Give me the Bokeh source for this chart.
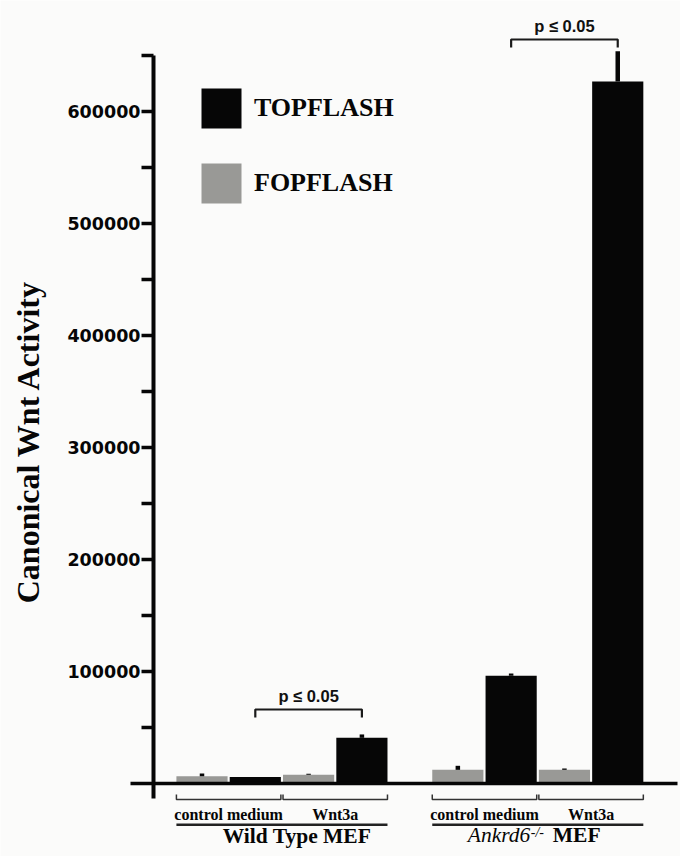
from math import pi
from bokeh.plotting import figure
from bokeh.models import Range1d, FixedTicker, Legend, LegendItem
from bokeh.core.properties import value
from bokeh.embed import file_html
from bokeh.resources import INLINE

# ---------------- data ----------------
cell_lines = ["Wild Type MEF", "Ankrd6-/- MEF"]
treatments = ["control medium", "Wnt3a"]
# order: WT control, WT Wnt3a, Ankrd6 control, Ankrd6 Wnt3a
topflash = [5800, 40800, 96200, 626800]
topflash_err = [0, 3000, 2000, 27000]
fopflash = [6500, 7800, 12200, 12200]
fopflash_err = [2500, 900, 3600, 1200]
y_ticks = [100000, 200000, 300000, 400000, 500000, 600000]
y_minor_ticks = [50000, 150000, 250000, 350000, 450000, 550000, 650000]
y_tick_labels = ["100000", "200000", "300000", "400000", "500000", "600000"]
p_label = "p \u2264 0.05"
y_title = "Canonical Wnt Activity"

# ---------------- layout helpers (page pixels) ----------------
W, H = 680, 856
PX0, PY0 = 0, 0
UNIT_PX = 53.3      # px per bar slot
X0_PX = 201.5       # page x of slot 0
BASE_PX = 783       # page y of value 0
PX_PER_Y = 112 / 100000.0
GROUP_GAP = 4.8
BAR_W = 0.96


def X(px):
    return (px - X0_PX) / UNIT_PX


def Y(py):
    return (BASE_PX - py) / PX_PER_Y


def slot(g, t, s):
    return g * GROUP_GAP + t * 2 + s


p = figure(width=W, height=H, min_border=0,
           x_range=Range1d(X(PX0), X(PX0 + W)),
           y_range=Range1d(Y(PY0 + H), Y(PY0)),
           x_axis_location=None, toolbar_location=None,
           output_backend="svg")
p.grid.visible = False
p.outline_line_color = None
p.background_fill_color = "#fbfbfa"
p.border_fill_color = "#fbfbfa"

BLACK = "#060606"
GRAY = "#999996"

top_x, fop_x = [], []
for g in range(2):
    for t in range(2):
        fop_x.append(slot(g, t, 0))
        top_x.append(slot(g, t, 1))

fop_r = p.vbar(x=fop_x, top=fopflash, bottom=0, width=BAR_W,
               fill_color=GRAY, line_color=None)
top_r = p.vbar(x=top_x, top=topflash, bottom=0, width=BAR_W,
               fill_color=BLACK, line_color=None)

# error bars (upper whisker only)
ex = fop_x + top_x
ey0 = fopflash + topflash
ey1 = [m + e for m, e in zip(fopflash, fopflash_err)] + \
      [m + e for m, e in zip(topflash, topflash_err)]
p.segment(x0=ex, y0=ey0, x1=ex, y1=ey1, line_color=BLACK, line_width=4.5)

# baseline
p.segment(x0=[X(130)], y0=[0], x1=[X(677)], y1=[0], line_color=BLACK,
          line_width=3.5)

# y axis
ax = p.yaxis[0]
ax.fixed_location = X(153)
ax.bounds = (Y(798), 650000)
ax.ticker = FixedTicker(ticks=y_ticks, minor_ticks=y_minor_ticks)
ax.major_label_overrides = {t: l for t, l in zip(y_ticks, y_tick_labels)}
ax.axis_line_width = 4
ax.axis_line_color = BLACK
ax.major_tick_line_width = 3.5
ax.minor_tick_line_width = 3.5
ax.major_tick_line_color = BLACK
ax.minor_tick_line_color = BLACK
ax.major_tick_out = 12
ax.minor_tick_out = 12
ax.major_tick_in = 0
ax.minor_tick_in = 0
ax.major_label_standoff = 1
ax.major_label_text_font = "DejaVu Sans"
ax.major_label_text_font_style = "bold"
ax.major_label_text_font_size = "17.5px"
ax.major_label_text_color = BLACK

# y title
p.text(x=[X(27.5)], y=[Y(441)], text=[y_title], angle=pi / 2,
       text_align="center", text_baseline="middle",
       text_font=value("Liberation Serif"), text_font_style="bold",
       text_font_size="32px", text_color=BLACK)

# treatment brackets and labels
for g in range(2):
    for t in range(2):
        left = slot(g, t, 0) - BAR_W / 2
        right = slot(g, t, 1) + BAR_W / 2
        p.line(x=[left, left, right, right],
               y=[Y(794), Y(799), Y(799), Y(794)],
               line_color="#333333", line_width=1.5)
        p.text(x=[(left + right) / 2], y=[Y(814)], text=[treatments[t]],
               text_align="center", text_baseline="middle",
               text_font=value("Liberation Serif"), text_font_style="bold",
               text_font_size="16px", text_color=BLACK)
    gl = slot(g, 0, 0) - BAR_W / 2
    gr = slot(g, 1, 1) + BAR_W / 2
    p.segment(x0=[gl], y0=[Y(824.3)], x1=[gr], y1=[Y(824.3)],
              line_color="#222222", line_width=2.5)

# group labels
wt_c = (slot(0, 0, 0) + slot(0, 1, 1)) / 2
p.text(x=[wt_c], y=[Y(835.4)], text=[cell_lines[0]], x_offset=15,
       text_align="center", text_baseline="middle",
       text_font=value("Liberation Serif"), text_font_style="bold",
       text_font_size="21.5px", text_color=BLACK)
ak_c = (slot(1, 0, 0) + slot(1, 1, 1)) / 2
name, rest = cell_lines[1].split(" ")
gene, geno = name[:6], name[6:]
p.text(x=[ak_c], y=[Y(834.6)], text=[gene], x_offset=-70,
       text_align="left", text_baseline="middle",
       text_font=value("Liberation Serif"), text_font_style="italic",
       text_font_size="21.5px", text_color=BLACK)
p.text(x=[ak_c], y=[Y(831.5)], text=[geno], x_offset=-7,
       text_align="left", text_baseline="middle",
       text_font=value("Liberation Serif"), text_font_style="italic",
       text_font_size="14px", text_color=BLACK)
p.text(x=[ak_c], y=[Y(834.6)], text=[rest], x_offset=15,
       text_align="left", text_baseline="middle",
       text_font=value("Liberation Serif"), text_font_style="bold",
       text_font_size="21.5px", text_color=BLACK)

# significance brackets
bracket_px = [709, 39]
for g in range(2):
    a = slot(g, 0, 1)
    b = slot(g, 1, 1)
    yt = bracket_px[g]
    p.line(x=[a, a, b, b], y=[Y(yt + 8), Y(yt), Y(yt), Y(yt + 8)],
           line_color="#1a1a1a", line_width=2.2)
    p.text(x=[(a + b) / 2], y=[Y(yt - 13.5)], text=[p_label],
           text_align="center", text_baseline="middle",
           text_font=value("Liberation Sans"), text_font_style="bold",
           text_font_size="16.5px", text_color="#111111")

# legend
legend = Legend(items=[LegendItem(label="TOPFLASH", renderers=[top_r]),
                       LegendItem(label="FOPFLASH", renderers=[fop_r])],
                location=(196 - PX0, PY0 + H - 208), glyph_width=50,
                glyph_height=50, spacing=25, label_standoff=8, padding=0,
                margin=0, border_line_color=None, background_fill_alpha=0,
                label_text_font="Liberation Serif",
                label_text_font_style="bold",
                label_text_font_size="26px", label_text_color=BLACK)
p.add_layout(legend)

open("out.html", "w").write(file_html(p, INLINE))
